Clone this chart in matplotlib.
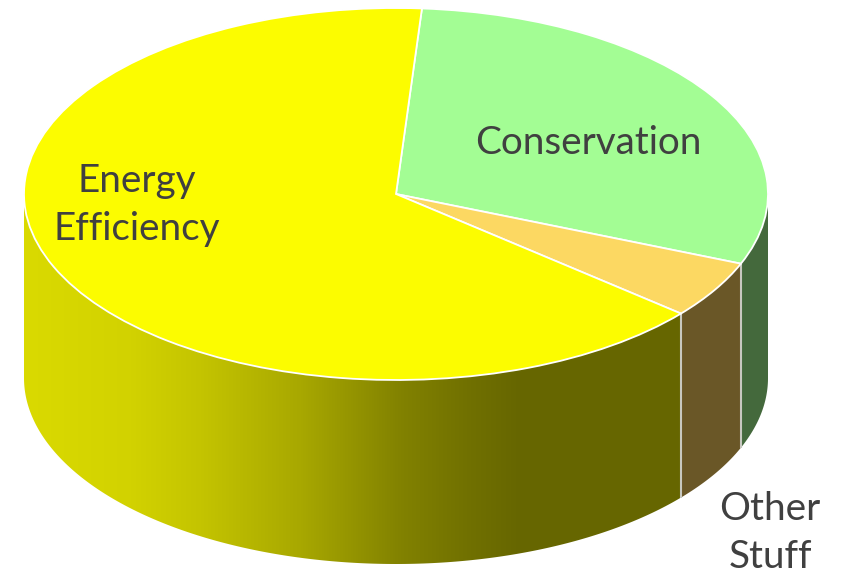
import numpy as np
import matplotlib
matplotlib.use('Agg')
import matplotlib.pyplot as plt
from matplotlib.patches import Polygon

labels = ['Conservation', 'Other\nStuff', 'Energy\nEfficiency']
values = [30, 5, 65]
top_colors = ['#A3FD94', '#FCD862', '#FCFC00']
side_colors = ['#44693C', '#6A5727', '#666600']

# shading of the energy efficiency wall, from left to right
grad_x = [24, 130, 200, 300, 400, 470, 520, 690]
grad_v = [218, 210, 196, 168, 130, 112, 102, 102]

START_ANGLE = 86
CX, CY = 396, 194
RX, RY = 372, 186
DEPTH = 184
W, H = 846, 576

plt.rcParams['font.family'] = ['Lato', 'DejaVu Sans']
fig = plt.figure(figsize=(W / 100, H / 100), dpi=100)
ax = fig.add_axes([0, 0, 1, 1])


def to_px(angle):
    t = np.radians(angle)
    return CX + RX * np.cos(t), CY - RY * np.sin(t)


def wall_poly(a1, a2):
    # a1 > a2, going clockwise on the front of the disc
    ts = np.linspace(a1, a2, 200)
    x, y = to_px(ts)
    top = np.column_stack([x, y])
    bot = np.column_stack([x, y + DEPTH])[::-1]
    return np.vstack([top, bot])


ax.set_xlim(0, W)
ax.set_ylim(H, 0)
ax.axis('off')

# walls
angles = START_ANGLE - np.cumsum([0] + values) * 3.6
for i in range(len(values)):
    a1, a2 = angles[i], angles[i + 1]
    # only the front half (180..360 deg) is visible
    vis1 = min(a1, 0) if a1 > -180 else a1
    vis2 = max(a2, -180)
    if vis1 <= vis2:
        continue
    poly = wall_poly(vis1, vis2)
    if i == 2:
        xs = np.arange(W)
        vals = np.interp(xs, grad_x, grad_v)
        row = np.zeros((1, W, 3))
        row[0, :, 0] = vals / 255
        row[0, :, 1] = vals / 255
        im = ax.imshow(row, extent=(0, W, H, 0), aspect='auto', zorder=1)
        patch = Polygon(poly, closed=True, transform=ax.transData, fc='none', ec='none')
        ax.add_patch(patch)
        im.set_clip_path(patch)
    else:
        ax.add_patch(Polygon(poly, closed=True, fc=side_colors[i], ec='none', zorder=1))

ax.set_xlim(0, W)
ax.set_ylim(H, 0)

# light seams between the walls
for a in angles[1:3]:
    x, y = to_px(a)
    ax.plot([x, x], [y, y + DEPTH], color='#C8C8C0', lw=1.5, zorder=2, solid_capstyle='butt')

# top face, as a pie in its own axes stretched to the ellipse
ax_top = fig.add_axes([0, 0, 1, 1])
ax_top.pie(values, colors=top_colors, startangle=START_ANGLE, counterclock=False,
           radius=1, wedgeprops={'edgecolor': 'white', 'linewidth': 1.3})
ax_top.set_aspect('auto')
ax_top.set_xlim(-CX / RX, (W - CX) / RX)
ax_top.set_ylim((CY - H) / RY, CY / RY)
ax_top.patch.set_visible(False)

text_color = '#404040'
fig.text(588 / W, 1 - 143 / H, labels[0], fontsize=27.8, color=text_color, ha='center', va='center')
fig.text(137 / W, 1 - 205 / H, labels[2], fontsize=27.8, color=text_color, ha='center', va='center', linespacing=1.42)
fig.text(770 / W, 1 - 533 / H, labels[1], fontsize=27.8, color=text_color, ha='center', va='center', linespacing=1.42)

fig.savefig('out.png', dpi=100)
